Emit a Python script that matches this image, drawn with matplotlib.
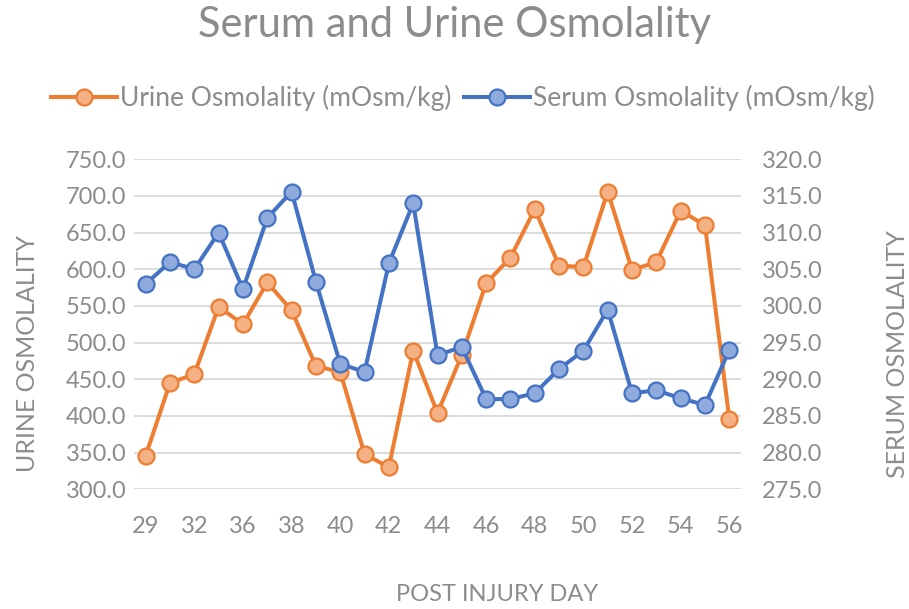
import numpy as np
import matplotlib.pyplot as plt

# post injury days (only every other one is labelled on the axis)
days = [29, 31, 32, 34, 36, 37, 38, 39, 40, 41, 42, 43, 44, 45, 46,
        47, 48, 49, 50, 51, 52, 53, 54, 55, 56]

urine = [346, 445, 457, 549, 525, 582, 544, 468, 460, 348, 330, 489, 404,
         483, 581, 616, 682, 605, 603, 706, 599, 610, 680, 660, 396]

serum = [303.0, 306.0, 305.0, 310.0, 302.3, 312.0, 315.6, 303.3, 292.1,
         291.0, 305.8, 314.0, 293.3, 294.4, 287.3, 287.3, 288.1, 291.4,
         293.9, 299.5, 288.1, 288.5, 287.4, 286.5, 294.0]

urine_ticks = np.arange(300, 751, 50)
serum_ticks = np.arange(275, 321, 5)

plt.rcParams['font.family'] = ['Lato', 'DejaVu Sans']
grey = '#8c8c8c'
orange = '#ED7D31'
blue = '#4472C4'

fig = plt.figure(figsize=(9.09, 6.09), dpi=100)
ax = fig.add_axes([0.1469, 0.1966, 0.6688, 0.5418])
ax2 = ax.twinx()

x = np.arange(len(days))
l1, = ax.plot(x, urine, color=orange, lw=2.9, marker='o', ms=11.5,
              mfc='#F4B183', mec=orange, mew=1.6, label='Urine Osmolality (mOsm/kg)', zorder=3)
l2, = ax2.plot(x, serum, color=blue, lw=2.9, marker='o', ms=11.5,
               mfc='#8FAADC', mec=blue, mew=1.6, label='Serum Osmolality (mOsm/kg)', zorder=3)

ax.set_xlim(-0.5, len(days) - 0.5)
ax.set_ylim(300, 750)
ax2.set_ylim(275, 320)
ax.set_yticks(urine_ticks)
ax.set_yticklabels([f'{v:.1f}' for v in urine_ticks])
ax2.set_yticks(serum_ticks)
ax2.set_yticklabels([f'{v:.1f}' for v in serum_ticks])
ax.set_xticks(x[::2])
ax.set_xticklabels([str(d) for d in days[::2]])

ax.grid(axis='y', color='#D9D9D9', lw=1.3)
ax.set_axisbelow(True)
for a in (ax, ax2):
    for s in a.spines.values():
        s.set_visible(False)
    a.tick_params(length=0, labelsize=17, labelcolor=grey)
ax.tick_params(axis='y', pad=5)
ax.tick_params(axis='x', pad=19)
ax2.tick_params(axis='y', pad=15)

fig.text(0.5, 0.959, 'Serum and Urine Osmolality', ha='center', va='center',
         fontsize=30, color=grey)
fig.text(0.03, 0.419, 'URINE OSMOLALITY', rotation=90, ha='center', va='center',
         fontsize=18, color=grey)
fig.text(0.987, 0.419, 'SERUM OSMOLALITY', rotation=90, ha='center', va='center',
         fontsize=18, color=grey)
fig.text(0.547, 0.024, 'POST INJURY DAY', ha='center', va='center',
         fontsize=17, color=grey)

leg = fig.legend(handles=[l1, l2], loc='center', bbox_to_anchor=(0.509, 0.839), ncol=2,
                 frameon=False, fontsize=19, handlelength=2.5, columnspacing=0.5,
                 handletextpad=0.1, labelcolor=grey)

fig.savefig('out.png', dpi=100)
